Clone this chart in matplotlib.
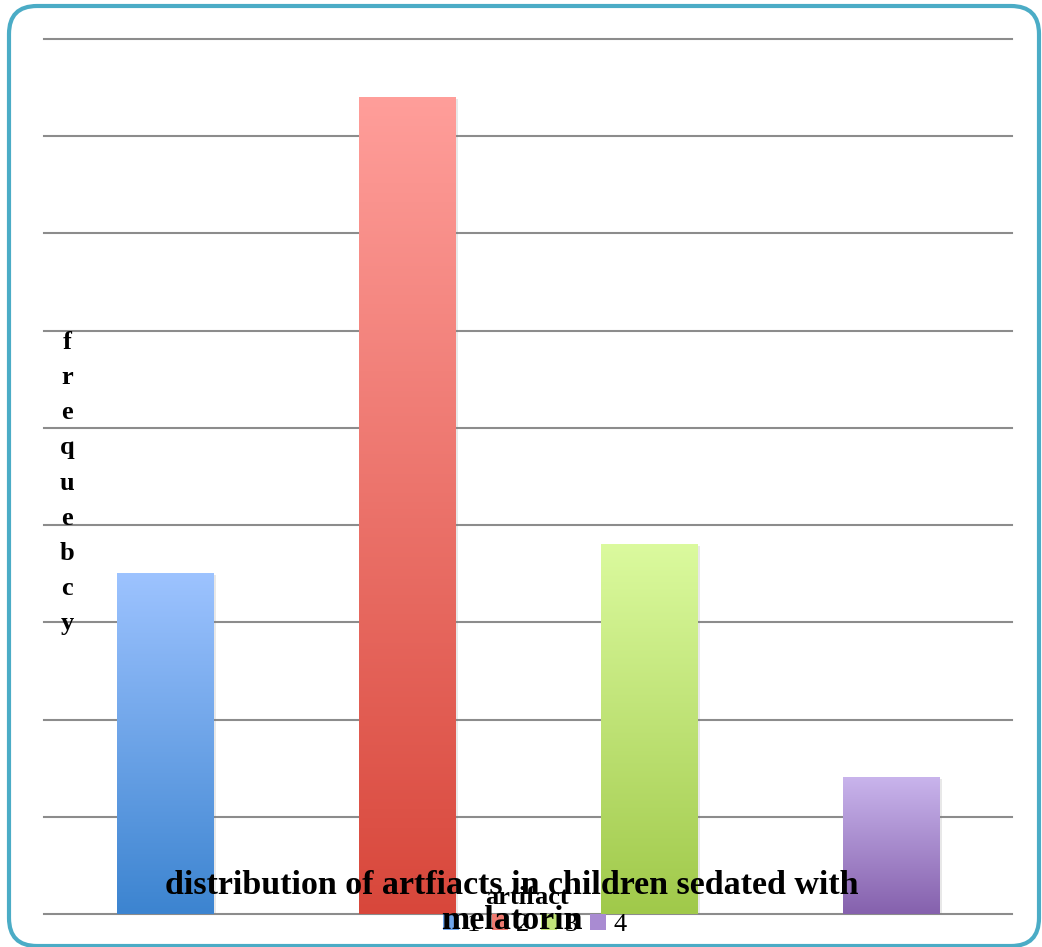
import numpy as np
import matplotlib.pyplot as plt
import matplotlib.patheffects as pe
from matplotlib.colors import LinearSegmentedColormap
from matplotlib.patches import FancyBboxPatch, Patch

plt.rcParams['font.family'] = ['Liberation Serif', 'DejaVu Serif']

categories = ['1', '2', '3', '4']
values = [17.5, 42, 19, 7]
top_colors = ['#9dc3ff', '#ff9e9a', '#dbfa9e', '#c9b4ec']
bottom_colors = ['#3c84d0', '#d8473b', '#a0c94a', '#8561ad']
mid_colors = ['#6fa5ec', '#ee7a70', '#c2e47a', '#a98bd2']

fig = plt.figure(figsize=(10.42, 9.47), dpi=100)
ax = fig.add_axes([44/1042, 33/947, 968/1042, 875/947])

x = np.arange(len(categories))
bars = ax.bar(x, values, width=0.4, color=top_colors, zorder=2)
for b in bars:
    b.set_path_effects([pe.SimplePatchShadow(offset=(2, -1), shadow_rgbFace='gray', alpha=0.18), pe.Normal()])

# vertical gradient inside each bar
grad = np.linspace(0, 1, 256).reshape(-1, 1)
for b, c0, c1 in zip(bars, top_colors, bottom_colors):
    cmap = LinearSegmentedColormap.from_list('g', [c1, c0])
    x0, y0 = b.get_x(), b.get_y()
    ax.imshow(grad, cmap=cmap, extent=[x0, x0 + b.get_width(), y0, y0 + b.get_height()],
              aspect='auto', origin='lower', zorder=3)

ax.set_xlim(-0.5, 3.5)
ax.set_ylim(0, 45)
ax.set_yticks(np.arange(0, 46, 5))
ax.yaxis.grid(True, color='#8c8c8c', linewidth=1.5)
for gl in ax.get_ygridlines():
    gl.set_clip_on(False)
ax.set_axisbelow(True)
ax.tick_params(left=False, bottom=False, labelleft=False, labelbottom=False)
for s in ax.spines.values():
    s.set_visible(False)

# rounded frame around the chart
box = FancyBboxPatch((9, 1), 1030, 940, boxstyle='round,pad=0,rounding_size=28',
                     transform=None, facecolor='none', edgecolor='#4bacc6', linewidth=3)
fig.add_artist(box)

fig.text(67/1042, 1 - 483/947, 'f\nr\ne\nq\nu\ne\nb\nc\ny', ha='center', va='center',
         fontsize=19, fontweight='bold', linespacing=1.67)

fig.text(527/1042, 1 - 897/947, 'artifact', ha='center', va='center',
         fontsize=19, fontweight='bold', zorder=5)

fig.legend(handles=[Patch(facecolor=c) for c in mid_colors], labels=categories,
           loc='center', bbox_to_anchor=(535/1042, 1 - 925/947), ncol=4, frameon=False,
           handlelength=0.6, handleheight=0.6, handletextpad=0.3, columnspacing=0.45,
           prop={'size': 19})

fig.text(512/1042, 1 - 903/947, 'distribution of artfiacts in children sedated with\nmelatorin',
         ha='center', va='center', fontsize=24.5, fontweight='bold', linespacing=1.15, zorder=6)

fig.savefig('out.png', dpi=100)
